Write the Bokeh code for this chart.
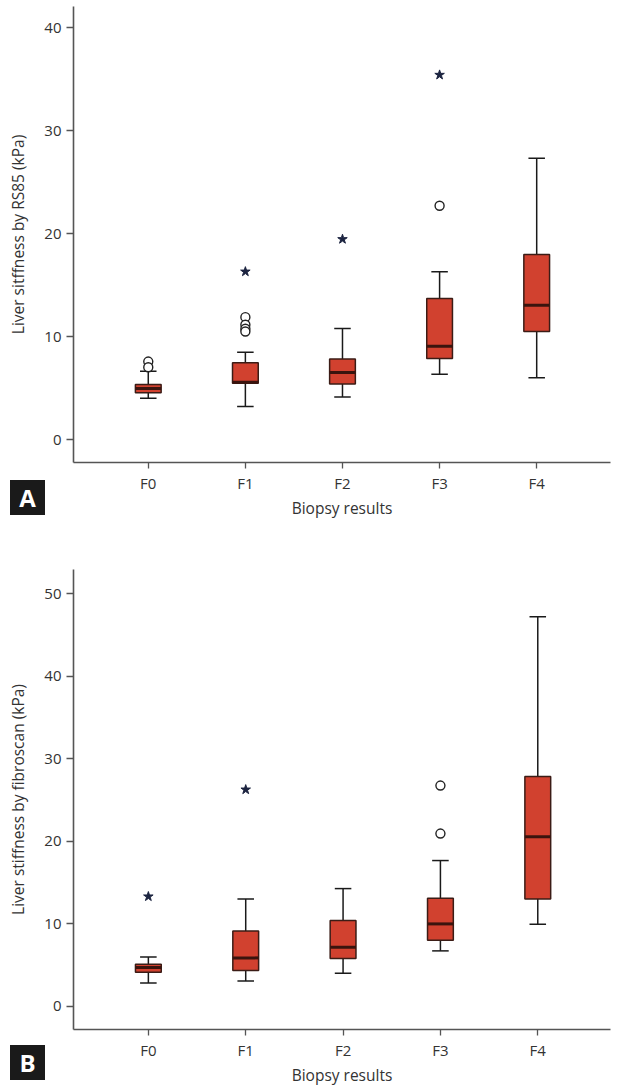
from bokeh.plotting import figure
from bokeh.models import Range1d, FixedTicker, ColumnDataSource, Div
from bokeh.layouts import column
from bokeh.embed import file_html
from bokeh.resources import INLINE

cats = ["F0", "F1", "F2", "F3", "F4"]

# Panel A: RS85
A_lo = [4.0, 3.2, 4.14, 6.34, 6.0]
A_q1 = [4.53, 5.47, 5.4, 7.86, 10.49]
A_med = [4.95, 5.55, 6.5, 9.06, 13.04]
A_q3 = [5.34, 7.45, 7.83, 13.7, 17.96]
A_hi = [6.63, 8.48, 10.78, 16.3, 27.3]
A_circ_cat = ["F0", "F0", "F1", "F1", "F1", "F1", "F3"]
A_circ_val = [7.57, 7.02, 11.88, 11.15, 10.75, 10.49, 22.7]
A_star_cat = ["F1", "F2", "F3"]
A_star_val = [16.3, 19.45, 35.4]

# Panel B: fibroscan
B_lo = [2.83, 3.07, 4.0, 6.71, 9.94]
B_q1 = [4.12, 4.33, 5.78, 8.0, 13.01]
B_med = [4.69, 5.86, 7.15, 9.98, 20.53]
B_q3 = [5.09, 9.13, 10.39, 13.1, 27.84]
B_hi = [5.98, 13.0, 14.26, 17.66, 47.2]
B_circ_cat = ["F3", "F3"]
B_circ_val = [20.93, 26.75]
B_star_cat = ["F0", "F1"]
B_star_val = [13.3, 26.26]

FONT = "Open Sans"
TXT = "#333333"
BOX_FILL = "#d1412f"
BOX_LINE = "#3b1c16"

BOX_W = 0.265
CAP_W = 0.17


def make_panel(lo, q1, med, q3, hi, cc, cv, sc, sv, ylabel, yr, xr, ticks,
               height, left, right, top, bottom):
    idx = {c: i for i, c in enumerate(cats)}
    xs = [idx[c] for c in cats]
    p = figure(width=618, height=height, output_backend="svg",
               toolbar_location=None, x_range=Range1d(*xr), y_range=Range1d(*yr),
               min_border_left=left, min_border_right=right, min_border_top=top,
               min_border_bottom=bottom)
    p.outline_line_color = None
    p.grid.grid_line_color = None
    p.background_fill_color = "white"
    p.border_fill_color = "white"

    src = ColumnDataSource(dict(x=xs, lo=lo, q1=q1, med=med, q3=q3, hi=hi,
                                cl=[x - CAP_W / 2 for x in xs],
                                cr=[x + CAP_W / 2 for x in xs],
                                bl=[x - BOX_W / 2 for x in xs],
                                br=[x + BOX_W / 2 for x in xs]))
    # whiskers
    p.segment(x0="x", y0="q3", x1="x", y1="hi", source=src, line_color="#1a1a1a", line_width=1.5)
    p.segment(x0="x", y0="q1", x1="x", y1="lo", source=src, line_color="#1a1a1a", line_width=1.5)
    p.segment(x0="cl", y0="hi", x1="cr", y1="hi", source=src, line_color="#1a1a1a", line_width=1.5)
    p.segment(x0="cl", y0="lo", x1="cr", y1="lo", source=src, line_color="#1a1a1a", line_width=1.5)
    # boxes
    p.vbar(x="x", width=BOX_W, top="q3", bottom="q1", source=src,
           fill_color=BOX_FILL, line_color=BOX_LINE, line_width=1.5)
    p.segment(x0="bl", y0="med", x1="br", y1="med", source=src,
              line_color="#3a140e", line_width=3)
    # outliers
    p.scatter([idx[c] for c in cc], cv, marker="circle", size=9,
              fill_color="white", line_color="#222222", line_width=1.4)
    p.scatter([idx[c] for c in sc], sv, marker="star", size=10,
              fill_color="#1c2440", line_color="#1c2440", line_width=1)

    p.xaxis.ticker = FixedTicker(ticks=xs)
    p.xaxis.major_label_overrides = {i: c for i, c in enumerate(cats)}
    p.yaxis.ticker = FixedTicker(ticks=ticks)
    for ax in (p.xaxis, p.yaxis):
        ax.axis_line_color = "#555555"
        ax.axis_line_width = 1.6
        ax.major_tick_line_color = "#555555"
        ax.major_tick_line_width = 1.3
        ax.major_tick_out = 6
        ax.major_tick_in = 0
        ax.minor_tick_line_color = None
        ax.major_label_text_font = FONT
        ax.major_label_text_font_size = "15px"
        ax.major_label_text_color = TXT
        ax.axis_label_text_font = FONT
        ax.axis_label_text_font_size = "15.5px"
        ax.axis_label_text_color = TXT
        ax.axis_label_text_font_style = "normal"
    p.xaxis.axis_label = "Biopsy results"
    p.xaxis.major_label_standoff = 4
    p.xaxis.axis_label_standoff = 1
    p.yaxis.axis_label = ylabel
    p.yaxis.major_tick_out = 7
    p.yaxis.major_label_standoff = 5
    p.yaxis.axis_label_standoff = 12
    return p


# Panel A geometry: frame x 71..610, y 6..462; 0 at y 439, 10.3 px per unit
pA = make_panel(A_lo, A_q1, A_med, A_q3, A_hi, A_circ_cat, A_circ_val,
                A_star_cat, A_star_val, "Liver sitffness by RS85 (kPa)",
                (-2.23, 42.04), (-0.77, 4.76), [0, 10, 20, 30, 40],
                540, 71, 8, 6, 78)

# Panel B geometry: frame x 73..618, y 569..1029
pB = make_panel(B_lo, B_q1, B_med, B_q3, B_hi, B_circ_cat, B_circ_val,
                B_star_cat, B_star_val, "Liver stiffness by fibroscan (kPa)",
                (-2.82, 52.94), (-0.769, 4.747), [0, 10, 20, 30, 40, 50],
                549, 73, 0, 29, 60)

badge_style = ("position:fixed;left:10px;width:35px;height:35px;background:#1a1a1a;"
               "color:#ffffff;font-family:'Open Sans';font-weight:bold;font-size:24px;"
               "display:flex;align-items:center;justify-content:center;line-height:1;")
badges = Div(text=(f'<div style="{badge_style}top:480px;">A</div>'
                   f'<div style="{badge_style}top:1045px;">B</div>'),
             width=0, height=0)

layout = column(pA, pB, badges, spacing=0)
open("out.html", "w").write(file_html(layout, INLINE))
